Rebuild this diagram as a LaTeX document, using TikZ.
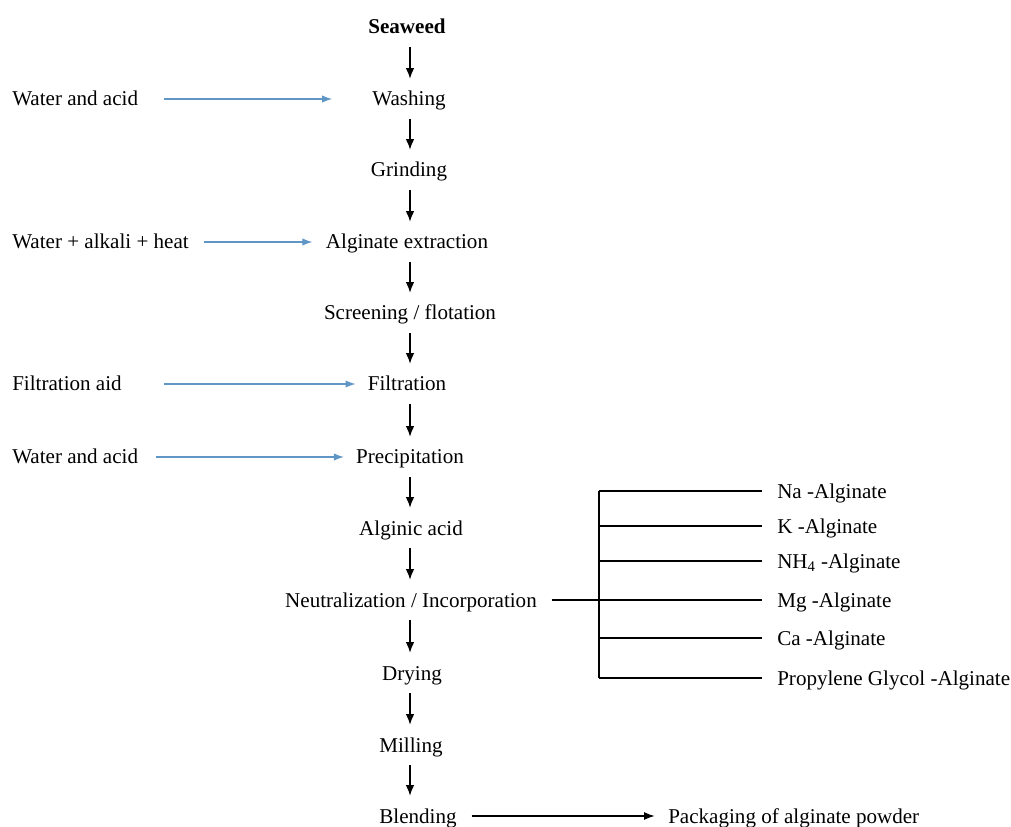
\documentclass[tikz,border=0pt]{standalone}
\usepackage{fontspec}
\setmainfont{Liberation Serif}
\usetikzlibrary{arrows.meta}
\definecolor{feedblue}{RGB}{96,150,198}
\begin{document}
\begin{tikzpicture}[x=0.75pt,y=-0.75pt,
  every node/.style={font=\fontsize{15.8pt}{18pt}\selectfont, inner sep=0pt,
    text height=12pt, text depth=1.5pt},
  stepbox/.style={minimum height=30pt, anchor=center},
  sidebox/.style={minimum height=30pt, anchor=west},
  down/.style={line width=1.1pt, -{Latex[length=8pt,width=6.5pt]}},
  feed/.style={draw=feedblue, line width=0.9pt, -{Latex[length=7.5pt,width=5.5pt]}, color=feedblue},
  outarrow/.style={line width=0.9pt, -{Latex[length=8pt,width=6pt]}},
  link/.style={line width=0.9pt}]
\useasboundingbox (0,0) rectangle (1011,827);

% main process column
\coordinate (col) at (410,0);
\node[stepbox] (seaweed)  at (407,27)  {\bfseries Seaweed};
\node[stepbox] (washing)  at (409,99)  {Washing};
\node[stepbox] (grinding) at (409,170) {Grinding};
\node[stepbox] (extract)  at (407,242) {Alginate extraction};
\node[stepbox] (screen)   at (410,313) {Screening / flotation};
\node[stepbox] (filtr)    at (407,384) {Filtration};
\node[stepbox] (precip)   at (410,457) {Precipitation};
\node[stepbox] (alginic)  at (411,528) {Alginic acid};
\node[stepbox] (neutral)  at (411,600) {Neutralization / Incorporation};
\node[stepbox] (drying)   at (412,673) {Drying};
\node[stepbox] (milling)  at (411,745) {Milling};
\node[stepbox] (blending) at (418,816) {Blending};
\node[sidebox] (pack)     at (668,816) {Packaging of alginate powder};

% inputs on the left
\node[sidebox] (in1) at (12,99)  {Water and acid};
\node[sidebox] (in2) at (12,242) {Water + alkali + heat};
\node[sidebox] (in3) at (12,384) {Filtration aid};
\node[sidebox] (in4) at (12,457) {Water and acid};

% alginate products
\node[sidebox] (na)  at (777,491) {Na -Alginate};
\node[sidebox] (k)   at (777,526) {K -Alginate};
\node[sidebox] (nh4) at (777,561) {NH\textsubscript{4} -Alginate};
\node[sidebox] (mg)  at (777,600) {Mg -Alginate};
\node[sidebox] (ca)  at (777,638) {Ca -Alginate};
\node[sidebox] (pga) at (777,678) {Propylene Glycol -Alginate};
\coordinate (bx) at (599,600);

% downward flow
\foreach \a/\b in {seaweed/washing, washing/grinding, grinding/extract,
  extract/screen, screen/filtr, filtr/precip, precip/alginic,
  alginic/neutral, neutral/drying, drying/milling, milling/blending}
  \draw[down] (\a.south -| col) -- (\b.north -| col);

% feeds
\draw[feed, shorten <=19.5pt, shorten >=30pt] (in1) -- (washing);
\draw[feed, shorten <=11pt, shorten >=10pt] (in2) -- (extract);
\draw[feed, shorten <=31.5pt, shorten >=9pt] (in3) -- (filtr);
\draw[feed, shorten <=13pt, shorten >=9pt] (in4) -- (precip);

% packaging
\draw[outarrow, shorten <=11pt, shorten >=10pt] (blending) -- (pack);

% neutralization branches
\draw[link, shorten <=11pt, shorten >=11pt] (neutral) -- (mg);
\draw[link] (bx |- na) -- (bx |- pga);
\foreach \p in {na, k, nh4, ca, pga}
  \draw[link, shorten >=11pt] (bx |- \p) -- (\p);
\end{tikzpicture}
\end{document}
